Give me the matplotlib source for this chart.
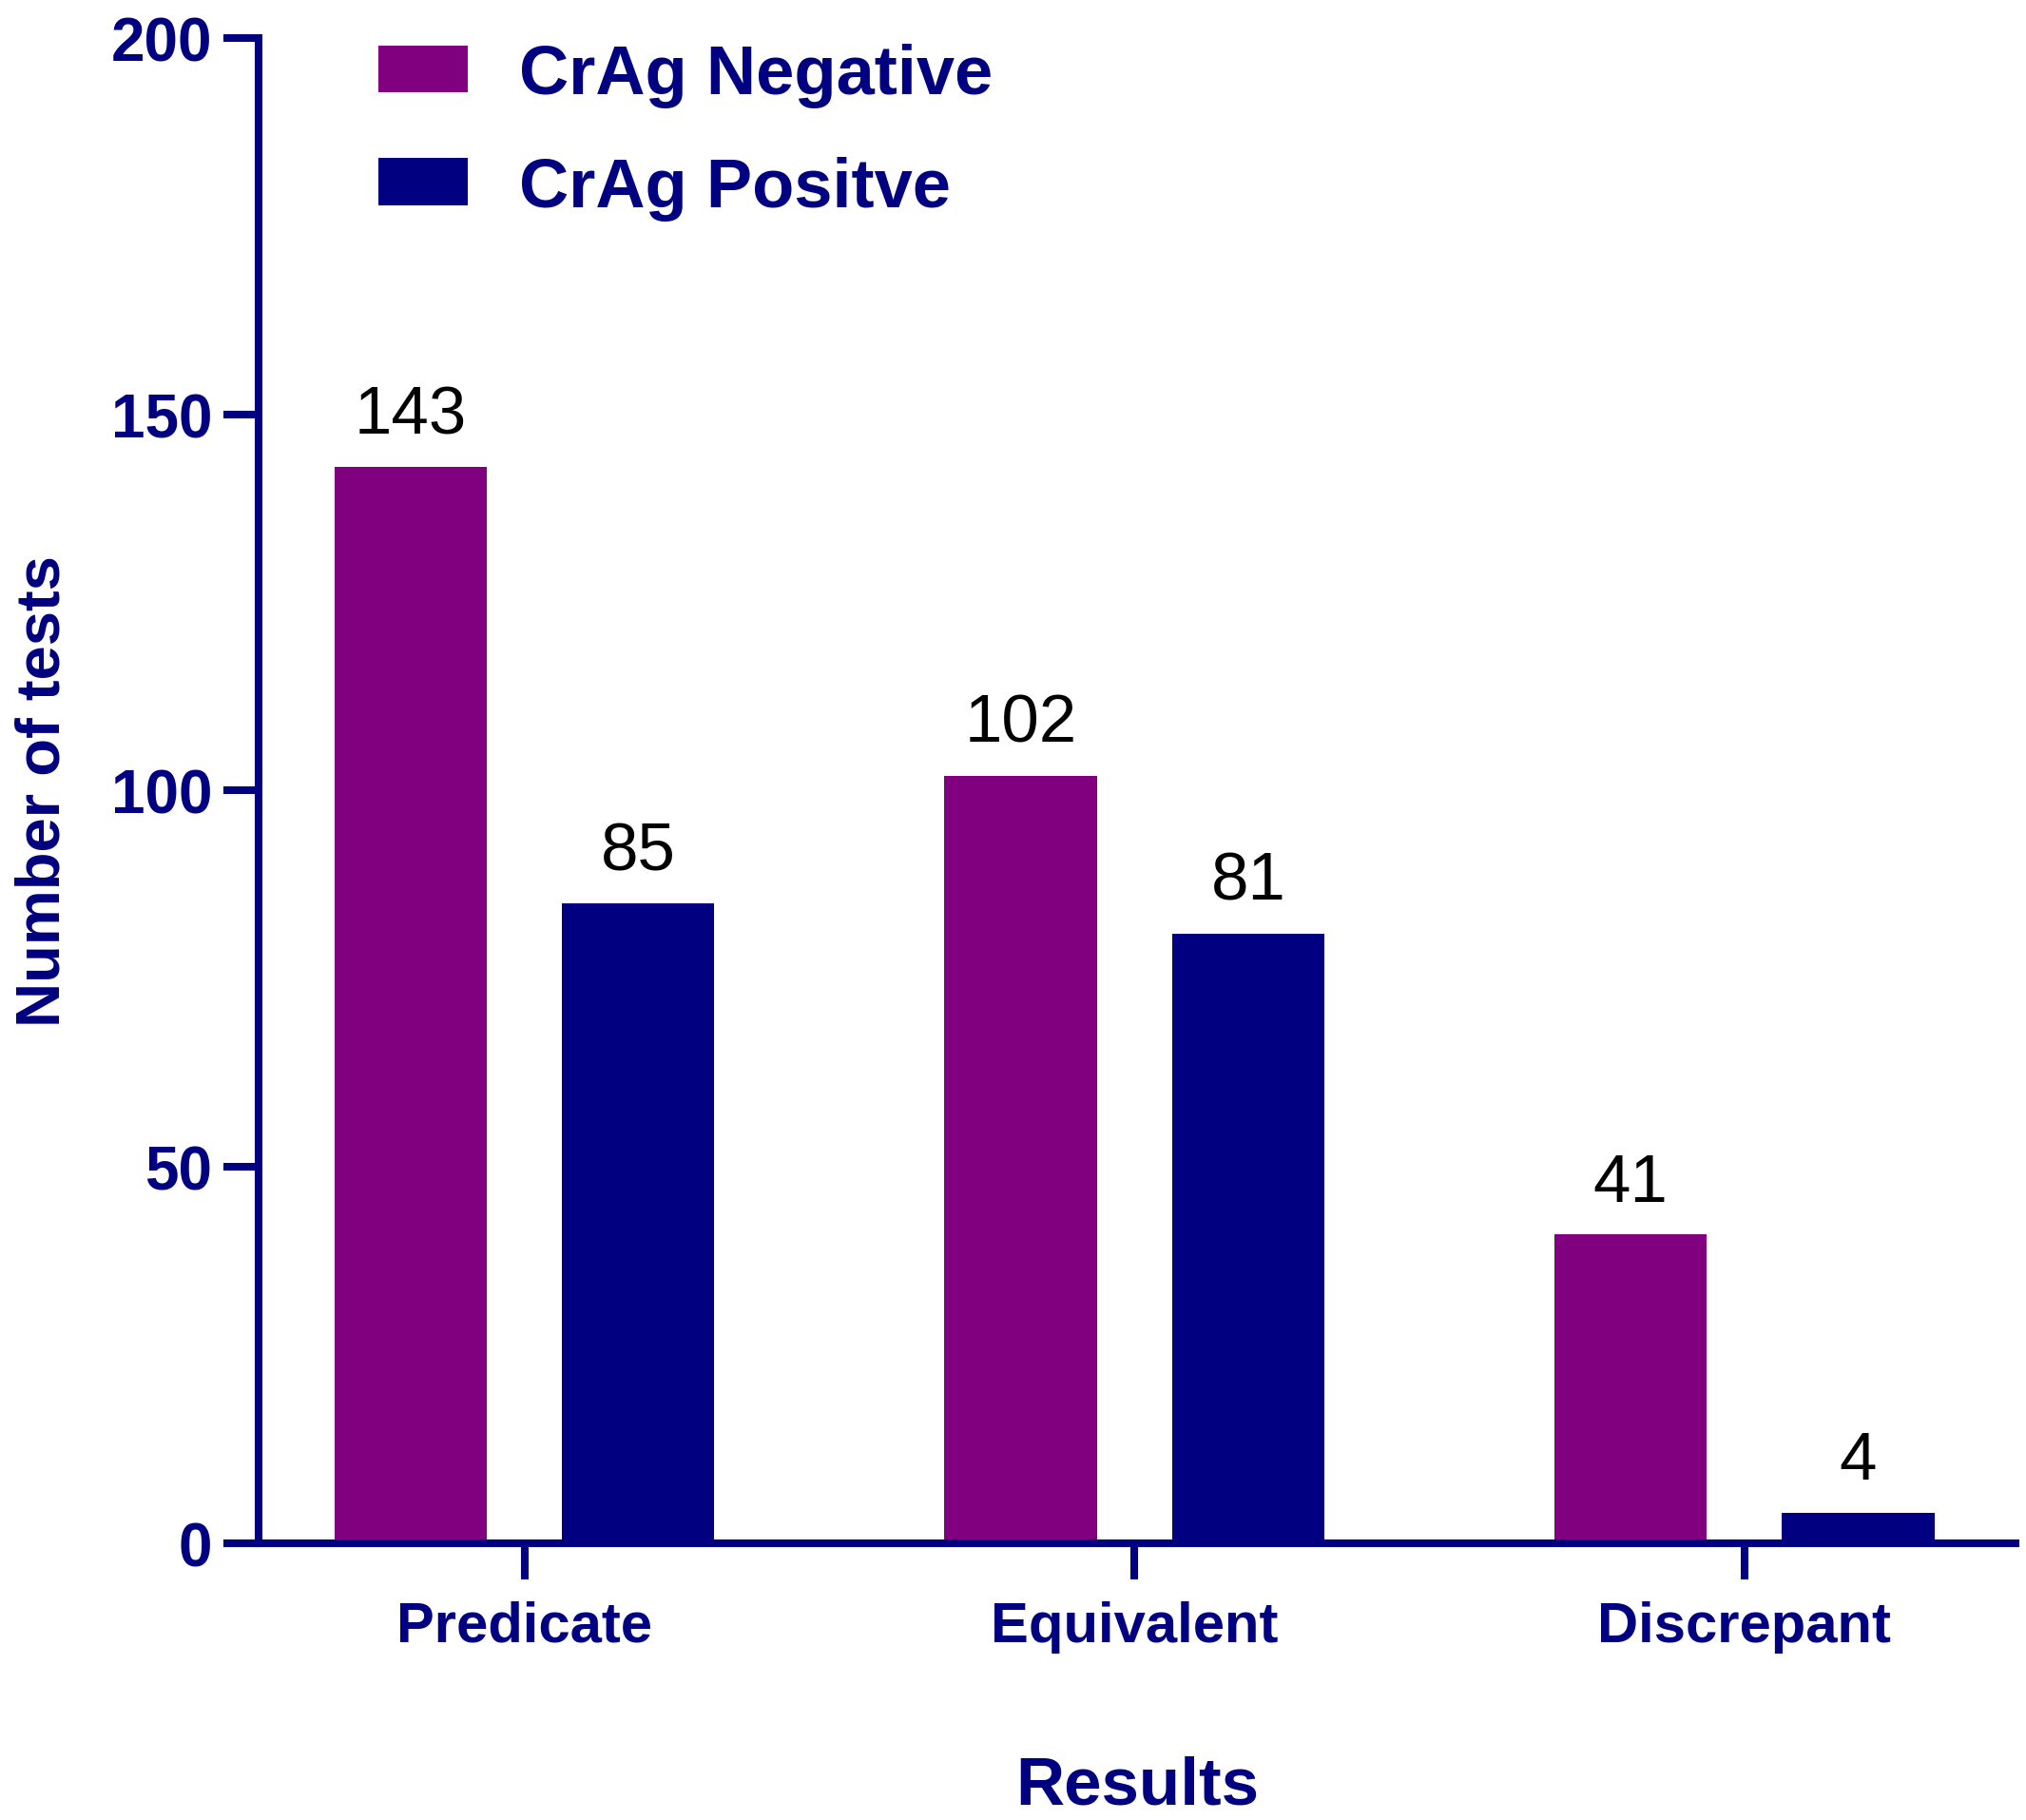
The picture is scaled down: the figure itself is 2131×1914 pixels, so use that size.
import numpy as np
import matplotlib
matplotlib.use("Agg")
import matplotlib.pyplot as plt

#-----------------------
#Data
#-----------------------
categories = ["Predicate", "Equivalent", "Discrepant"]
series_names = ["CrAg Negative", "CrAg Positve"]
negative_counts = [143, 102, 41]
positive_counts = [85, 81, 4]
y_ticks = [0, 50, 100, 150, 200]

#-----------------------
#Style
#-----------------------
navy = "#000080"
purple = "#800080"
plt.rcParams['font.family'] = ['Liberation Sans', 'DejaVu Sans']

fig = plt.figure(figsize=(21.31, 19.15), dpi=100)
ax = fig.add_axes([0.1276, 0.152, 0.8674, 0.8266])

x = np.arange(len(categories))
width = 0.25
offset = 0.1864

bars_neg = ax.bar(x - offset, negative_counts, width, color=purple, label=series_names[0])
bars_pos = ax.bar(x + offset, positive_counts, width, color=navy, label=series_names[1])

ax.bar_label(bars_neg, fontsize=51, color="black", padding=15)
ax.bar_label(bars_pos, fontsize=51, color="black", padding=15)

ax.set_xlim(-0.436, 2.445)
ax.set_ylim(0, 200)
ax.set_yticks(y_ticks)
ax.set_xticks(x)
ax.set_xticklabels(categories)

for side in ["top", "right"]:
    ax.spines[side].set_visible(False)
for side in ["left", "bottom"]:
    ax.spines[side].set_color(navy)
    ax.spines[side].set_linewidth(5.8)
    ax.spines[side].set_capstyle("projecting")

ax.tick_params(axis="both", colors=navy, width=5.8, length=27, direction="out")
ax.tick_params(axis="y", pad=8)
ax.tick_params(axis="x", pad=16)
for lab in ax.get_yticklabels():
    lab.set_fontsize(46)
    lab.set_fontweight("bold")
    lab.set_color(navy)
for lab in ax.get_xticklabels():
    lab.set_fontsize(43)
    lab.set_fontweight("bold")
    lab.set_color(navy)

ax.set_xlabel("Results", fontsize=51, fontweight="bold", color=navy, labelpad=78)
ax.set_ylabel("Number of tests", fontsize=47, fontweight="bold", color=navy, labelpad=30)

leg = ax.legend(loc="upper left", bbox_to_anchor=(398 / 2131, 1 - 46 / 1915),
                bbox_transform=fig.transFigure, frameon=False, fontsize=52,
                handlelength=1.3, handleheight=0.68, handletextpad=0.75,
                labelspacing=0.7, borderpad=0, borderaxespad=0)
for t in leg.get_texts():
    t.set_fontweight("bold")
    t.set_color(navy)

fig.savefig("out.png", dpi=100)
